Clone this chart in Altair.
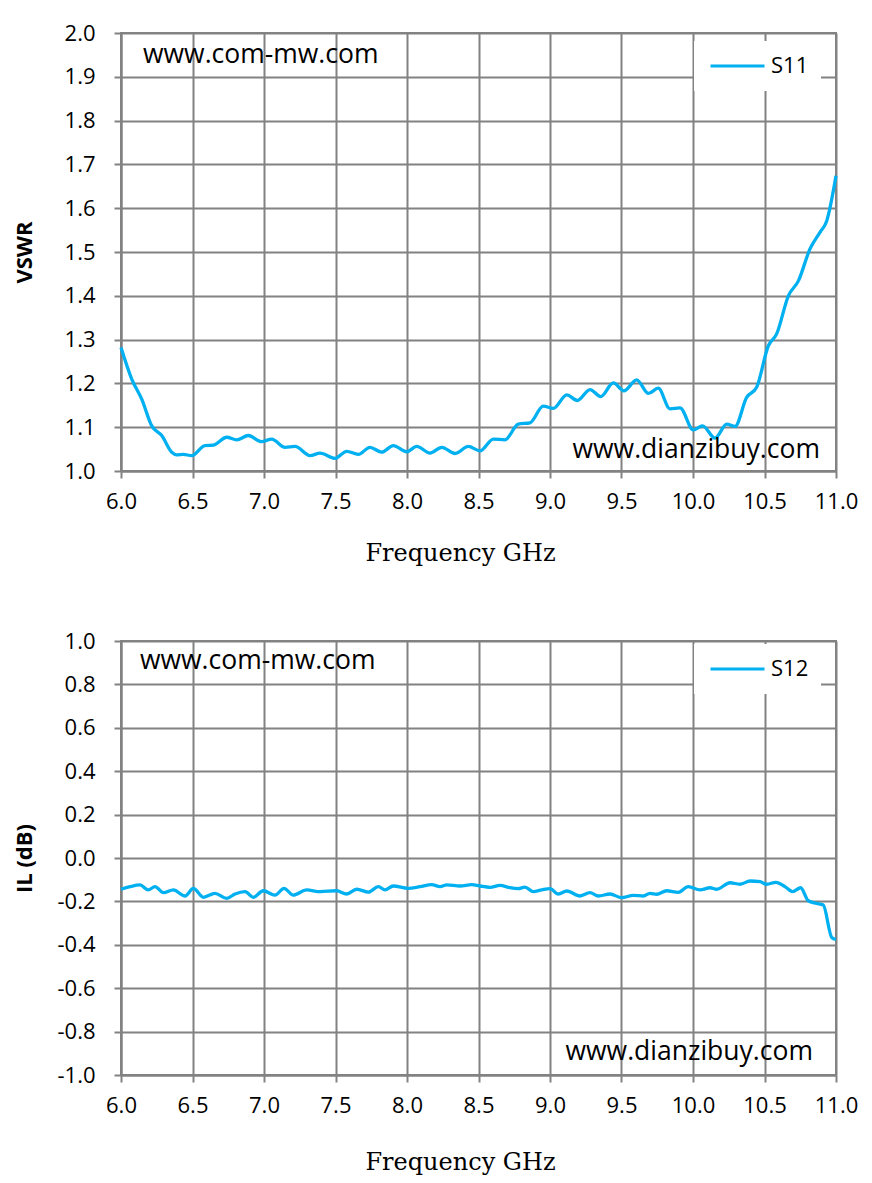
import altair as alt
import pandas as pd

# S11 (VSWR)
s11_freq = [6.0, 6.075, 6.145, 6.215, 6.285, 6.355, 6.39, 6.436, 6.494, 6.587,
            6.645, 6.739, 6.809, 6.89, 6.983, 7.054, 7.147, 7.217, 7.322, 7.392,
            7.497, 7.578, 7.66, 7.741, 7.823, 7.904, 7.998, 8.068, 8.161, 8.243,
            8.336, 8.429, 8.51, 8.604, 8.685, 8.778, 8.86, 8.953, 9.023, 9.117,
            9.191, 9.28, 9.354, 9.443, 9.517, 9.606, 9.688, 9.757, 9.839, 9.909,
            10.002, 10.067, 10.154, 10.236, 10.294, 10.375, 10.445, 10.527, 10.585, 10.667,
            10.737, 10.818, 10.888, 10.935, 11.0]
s11_vswr = [1.282, 1.210, 1.164, 1.103, 1.081, 1.043, 1.037, 1.038, 1.035, 1.058,
            1.059, 1.077, 1.071, 1.081, 1.067, 1.073, 1.054, 1.056, 1.035, 1.041,
            1.029, 1.045, 1.038, 1.054, 1.043, 1.058, 1.044, 1.056, 1.041, 1.054,
            1.040, 1.056, 1.046, 1.073, 1.071, 1.107, 1.110, 1.148, 1.143, 1.174,
            1.161, 1.186, 1.170, 1.201, 1.183, 1.208, 1.177, 1.189, 1.142, 1.144,
            1.094, 1.103, 1.075, 1.107, 1.102, 1.168, 1.191, 1.286, 1.313, 1.400,
            1.434, 1.507, 1.545, 1.571, 1.674]

# S12 (insertion loss)
s12_freq = [6.0, 6.063, 6.133, 6.191, 6.238, 6.297, 6.366, 6.448, 6.506, 6.576,
            6.657, 6.739, 6.797, 6.867, 6.925, 6.995, 7.077, 7.14, 7.205, 7.298,
            7.392, 7.508, 7.578, 7.648, 7.73, 7.8, 7.846, 7.904, 8.009, 8.091,
            8.173, 8.231, 8.278, 8.371, 8.452, 8.51, 8.58, 8.65, 8.72, 8.778,
            8.825, 8.883, 8.942, 9.0, 9.058, 9.117, 9.21, 9.28, 9.338, 9.42,
            9.501, 9.583, 9.653, 9.699, 9.746, 9.816, 9.897, 9.967, 10.049, 10.119,
            10.166, 10.259, 10.329, 10.399, 10.469, 10.515, 10.58, 10.643, 10.697, 10.753,
            10.806, 10.864, 10.911, 10.97, 11.0]
s12_il = [-0.144, -0.132, -0.124, -0.147, -0.132, -0.160, -0.147, -0.175, -0.140, -0.181,
          -0.163, -0.186, -0.166, -0.155, -0.181, -0.151, -0.171, -0.140, -0.171, -0.147,
          -0.155, -0.151, -0.166, -0.144, -0.157, -0.132, -0.147, -0.129, -0.140, -0.132,
          -0.123, -0.132, -0.124, -0.129, -0.123, -0.129, -0.135, -0.126, -0.137, -0.141,
          -0.134, -0.155, -0.147, -0.141, -0.166, -0.152, -0.175, -0.160, -0.175, -0.166,
          -0.183, -0.172, -0.175, -0.163, -0.167, -0.151, -0.158, -0.132, -0.147, -0.137,
          -0.144, -0.114, -0.121, -0.106, -0.109, -0.121, -0.112, -0.132, -0.155, -0.137,
          -0.197, -0.209, -0.217, -0.366, -0.375]

freq_ticks = [6.0, 6.5, 7.0, 7.5, 8.0, 8.5, 9.0, 9.5, 10.0, 10.5, 11.0]
vswr_ticks = [1.0, 1.1, 1.2, 1.3, 1.4, 1.5, 1.6, 1.7, 1.8, 1.9, 2.0]
il_ticks = [-1.0, -0.8, -0.6, -0.4, -0.2, 0.0, 0.2, 0.4, 0.6, 0.8, 1.0]

BLUE = "#00B0F0"
GRID = "#828282"
FONT = "Open Sans"


def panel(freq, vals, name, ytitle, ydomain, yticks, notes, legend_y, title_pad, xtitle_y, h):
    df = pd.DataFrame({"f": freq, "v": vals, "s": name})
    x = alt.X("f:Q", scale=alt.Scale(domain=[6, 11], nice=False),
              axis=alt.Axis(values=freq_ticks, format=".1f", labelFlush=False,
                            labelOverlap=False, title="Frequency GHz",
                            titleX=339, titleY=xtitle_y, titleAlign="center",
                            titleBaseline="alphabetic"))
    y = alt.Y("v:Q", scale=alt.Scale(domain=ydomain, nice=False, zero=False),
              axis=alt.Axis(values=yticks, format=".1f", labelOverlap=False,
                            labelExpr="replace(datum.label, '\u2212', '-')",
                            title=ytitle, titlePadding=title_pad))

    line = alt.Chart(df).mark_line(strokeWidth=3.3, interpolate="monotone").encode(
        x=x, y=y,
        color=alt.Color("s:N", scale=alt.Scale(domain=[name], range=[BLUE]),
                        legend=alt.Legend(orient="none", legendX=573, legendY=legend_y,
                                          title=None, fillColor="white", padding=12,
                                          symbolType="stroke", symbolSize=2916,
                                          symbolStrokeWidth=3, symbolOffset=3,
                                          labelOffset=5, clipHeight=26,
                                          labelFont=FONT, labelFontSize=22,
                                          labelColor="black"))
    )

    left = pd.DataFrame({"f": [notes[0][0]], "v": [notes[0][1]], "t": ["www.com-mw.com"]})
    right = pd.DataFrame({"f": [notes[1][0]], "v": [notes[1][1]], "t": ["www.dianzibuy.com"]})
    t_left = alt.Chart(left).mark_text(align="left", baseline="middle", font=FONT,
                                       fontSize=26.5, color="black").encode(
        x="f:Q", y="v:Q", text="t:N")
    t_right = alt.Chart(right).mark_text(align="right", baseline="middle", font=FONT,
                                         fontSize=26.5, color="black").encode(
        x="f:Q", y="v:Q", text="t:N")

    return alt.layer(line, t_left, t_right).properties(width=715, height=h)


top = panel(s11_freq, s11_vswr, "S11", "VSWR", [1.0, 2.0], vswr_ticks,
            [(6.154, 1.95), (10.888, 1.048)], 8, 28, 89, 438)
bottom = panel(s12_freq, s12_il, "S12", "IL (dB)", [-1.0, 1.0], il_ticks,
               [(6.133, 0.908), (10.839, -0.894)], 3, 20, 94, 434)

chart = alt.vconcat(top, bottom, spacing=63).resolve_scale(
    color="independent"
).resolve_legend(
    color="independent"
).properties(
    padding={"left": 4, "top": 13, "right": 0, "bottom": 0}
).configure_axis(
    gridColor=GRID, gridWidth=2, domainColor=GRID, domainWidth=2,
    tickColor=GRID, tickWidth=2, tickSize=7,
    labelFont=FONT, labelFontSize=22, labelColor="black", titleColor="black"
).configure_axisX(
    labelPadding=13, titleFont="DejaVu Serif", titleFontSize=24, titleFontWeight="normal"
).configure_axisY(
    labelPadding=19, titleFont=FONT, titleFontSize=22, titleFontWeight="bold"
).configure_view(
    stroke=GRID, strokeWidth=2
)

chart.save("out.html", embed_options={"renderer": "svg", "actions": False})
